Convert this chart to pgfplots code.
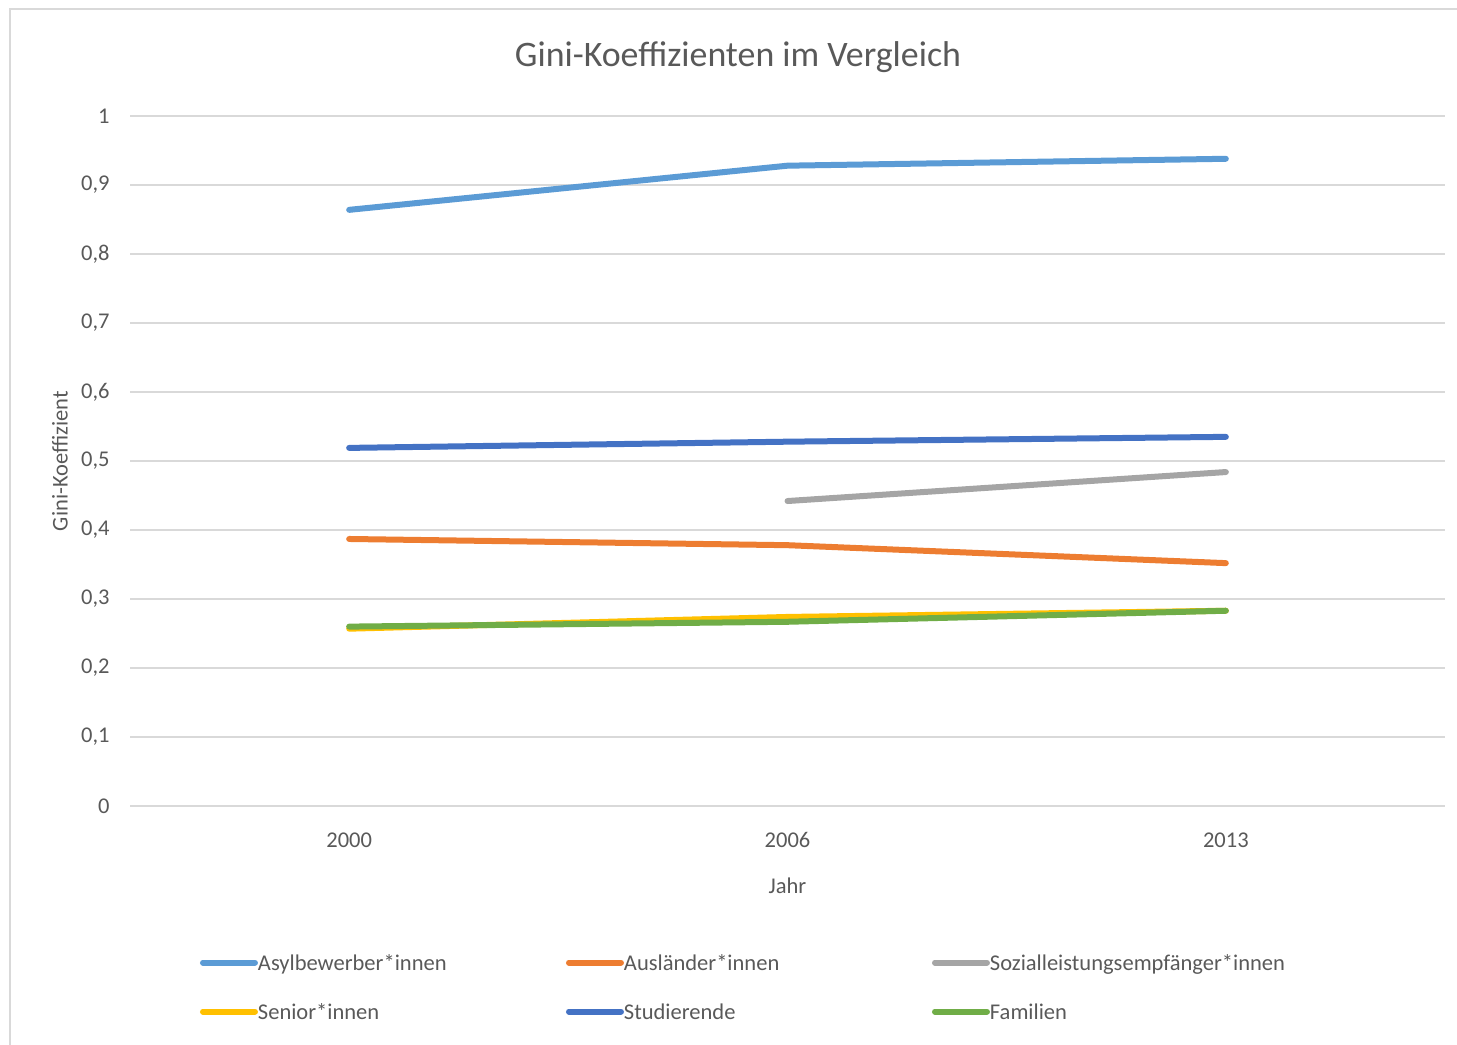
\documentclass[border=0pt]{standalone}
\usepackage{pgfplots}
\pgfplotsset{compat=1.18}
\usepackage{fontspec}
\setmainfont{Carlito}
\definecolor{txt}{HTML}{595959}
\definecolor{gridc}{HTML}{D9D9D9}
\definecolor{cA}{HTML}{5B9BD5}
\definecolor{cB}{HTML}{ED7D31}
\definecolor{cC}{HTML}{A5A5A5}
\definecolor{cD}{HTML}{FFC000}
\definecolor{cE}{HTML}{4472C4}
\definecolor{cF}{HTML}{70AD47}
\begin{document}
\begin{tikzpicture}
\useasboundingbox (0,0) rectangle (728.5bp,-522.5bp);
\draw[gridc, line width=0.8bp] (5bp,-522.5bp) -- (5bp,-4.5bp) -- (728.5bp,-4.5bp);
\node[text=txt, font=\fontsize{18}{21}\selectfont] at (369bp,-28.5bp) {Gini-Koeffizienten im Vergleich};
\begin{axis}[
  at={(65bp,-403bp)}, anchor=south west,
  width=657.5bp, height=345bp, scale only axis,
  xmin=-0.5, xmax=2.5, ymin=0, ymax=1,
  axis line style={draw=none},
  xtick={0,1,2}, xticklabels={2000,2006,2013},
  ytick={0,0.1,0.2,0.3,0.4,0.5,0.6,0.7,0.8,0.9,1},
  major tick length=0pt,
  ymajorgrids, grid style={gridc, line width=0.8bp},
  tick label style={font=\fontsize{11.3}{13}\selectfont, text=txt},
  /pgf/number format/use comma,
  /pgf/number format/assume math mode=true,
  yticklabel style={anchor=east, inner sep=0pt, xshift=-10bp},
  xticklabel style={anchor=center, inner sep=0pt, yshift=-17bp},
  xlabel={Jahr}, ylabel={Gini-Koeffizient},
  label style={font=\fontsize{11.3}{13}\selectfont, text=txt},
  xlabel style={at={(axis description cs:0.5,0)}, anchor=center, yshift=-40bp},
  ylabel style={at={(axis description cs:0,0.5)}, anchor=center, yshift=35bp},
  legend columns=3,
  legend cell align=left,
  legend style={draw=none, fill=none, inner sep=0pt, outer sep=0pt,
    at={(axis description cs:0.0532,-0.2145)}, anchor=north west,
    font=\fontsize{11.3}{13}\selectfont, text=txt,
    nodes={inner xsep=0pt, inner ysep=0pt, text height=8bp, text depth=2.5bp, text width=154bp},
    row sep=14bp, column sep=0pt},
  legend image code/.code={\path (0bp,1bp) -- (26bp,1bp);\draw[#1, line width=3bp, line cap=round] (1.5bp,1bp) -- (23.5bp,1bp);},
  every axis plot/.append style={line width=3bp, line cap=round, line join=round},
]
\addplot[cA] coordinates {(0,0.864) (1,0.928) (2,0.938)};
\addlegendentry{Asylbewerber*innen}
\addplot[cB] coordinates {(0,0.387) (1,0.378) (2,0.352)};
\addlegendentry{Ausländer*innen}
\addplot[cC] coordinates {(1,0.442) (2,0.484)};
\addlegendentry{Sozialleistungsempfänger*innen}
\addplot[cD] coordinates {(0,0.257) (1,0.274) (2,0.283)};
\addlegendentry{Senior*innen}
\addplot[cE] coordinates {(0,0.519) (1,0.528) (2,0.535)};
\addlegendentry{Studierende}
\addplot[cF] coordinates {(0,0.260) (1,0.267) (2,0.283)};
\addlegendentry{Familien}
\end{axis}
\end{tikzpicture}
\end{document}
